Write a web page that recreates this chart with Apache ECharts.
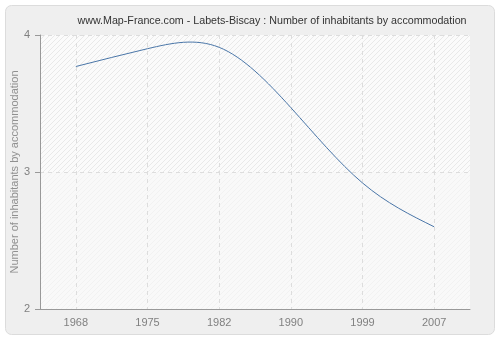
<!DOCTYPE html>
<html>
<head>
<meta charset="utf-8">
<style>
  html, body { margin: 0; padding: 0; background: #ffffff; }
  #chart { width: 500px; height: 340px; }
</style>
<script src="https://cdn.jsdelivr.net/npm/echarts@6/dist/echarts.min.js"></script>
</head>
<body>
<div id="chart"></div>
<script>
// Census years and average number of inhabitants per dwelling
const years = ['1968', '1975', '1982', '1990', '1999', '2007'];
const inhabitants = [3.77, 3.90, 3.91, 3.47, 2.92, 2.60];
const yTicks = [2, 3, 4];

// Second derivatives of a natural cubic spline through evenly spaced values
function splineSecondDerivs(y) {
  const n = y.length;
  const M = new Array(n).fill(0);
  if (n < 3) return M;
  const c = [], d = [];
  for (let i = 1; i < n - 1; i++) {
    const rhs = 6 * (y[i + 1] - 2 * y[i] + y[i - 1]);
    const prevC = i > 1 ? c[i - 1] : 0;
    const prevD = i > 1 ? d[i - 1] : 0;
    const den = 4 - prevC;
    c[i] = 1 / den;
    d[i] = (rhs - prevD) / den;
  }
  for (let i = n - 2; i >= 1; i--) {
    M[i] = d[i] - c[i] * M[i + 1];
  }
  return M;
}
const M = splineSecondDerivs(inhabitants);

// Diagonal hatch tile for the plot background
function hatch(bg, lineColor) {
  const s = 5;
  const c = document.createElement('canvas');
  c.width = s; c.height = s;
  const g = c.getContext('2d');
  g.fillStyle = bg;
  g.fillRect(0, 0, s, s);
  g.strokeStyle = lineColor;
  g.lineWidth = 1;
  g.beginPath();
  g.moveTo(-1, s + 1); g.lineTo(s + 1, -1);
  g.moveTo(-1, 1); g.lineTo(1, -1);
  g.moveTo(s - 1, s + 1); g.lineTo(s + 1, s - 1);
  g.stroke();
  return c;
}

const chart = echarts.init(document.getElementById('chart'), null, { renderer: 'canvas' });
const font = 'Liberation Sans';

chart.setOption({
  animation: false,
  backgroundColor: '#ffffff',
  graphic: [{
    type: 'rect',
    z: -10,
    shape: { x: 5.5, y: 5.5, width: 489, height: 329, r: 6 },
    style: { fill: '#efefef', stroke: '#dcdcdc', lineWidth: 1 }
  }],
  title: {
    text: 'www.Map-France.com - Labets-Biscay : Number of inhabitants by accommodation',
    left: 267,
    textAlign: 'center',
    top: 11,
    textStyle: { fontFamily: font, fontSize: 10.7, fontWeight: 'normal', color: '#333333' }
  },
  grid: {
    left: 40, right: 30, top: 35, bottom: 31,
    containLabel: false,
    outerBoundsMode: 'none',
    show: true,
    borderWidth: 0,
    backgroundColor: { image: hatch('#fbfbfb', '#e9e9e9'), repeat: 'repeat' }
  },
  xAxis: {
    type: 'category',
    data: years,
    boundaryGap: true,
    z: 2,
    axisLine: { lineStyle: { color: '#999999' } },
    axisTick: { alignWithLabel: true, length: 5, lineStyle: { color: '#999999' } },
    axisLabel: { fontFamily: font, fontSize: 11, color: '#808080', margin: 8 },
    splitLine: { show: true, alignWithLabel: true, lineStyle: { color: '#dddddd', type: [4, 4] } }
  },
  yAxis: {
    type: 'value',
    min: yTicks[0],
    max: yTicks[yTicks.length - 1],
    interval: 1,
    z: 2,
    name: 'Number of inhabitants by accommodation',
    nameLocation: 'middle',
    nameGap: 20,
    nameMoveOverlap: false,
    nameTextStyle: { fontFamily: font, fontSize: 11, color: '#909090' },
    axisLine: { show: true, lineStyle: { color: '#999999' } },
    axisTick: { show: true, length: 5, lineStyle: { color: '#999999' } },
    axisLabel: { fontFamily: font, fontSize: 11, color: '#808080', margin: 10 },
    splitLine: { show: true, lineStyle: { color: '#dddddd', type: [4, 4] } }
  },
  series: [{
    // lighter hatch for the lower half of the plot
    type: 'line',
    data: [],
    z: 1,
    markArea: {
      silent: true,
      z: 1,
      data: [
        [{ yAxis: 2, itemStyle: { color: { image: hatch('#f9f9f9', '#f2f2f2'), repeat: 'repeat' } } }, { yAxis: 3 }]
      ]
    }
  }, {
    // smooth curve: each item draws the spline segment to the next year
    type: 'custom',
    data: inhabitants.map((v, i) => [years[i], v]),
    encode: { x: 0, y: 1 },
    z: 3,
    renderItem: function (params, api) {
      const i = params.dataIndex;
      if (i >= inhabitants.length - 1) return null;
      const y0 = inhabitants[i], y1 = inhabitants[i + 1];
      const d0 = (y1 - y0) - (2 * M[i] + M[i + 1]) / 6;
      const d1 = (y1 - y0) + (M[i] + 2 * M[i + 1]) / 6;
      const p0 = api.coord([years[i], y0]);
      const p3 = api.coord([years[i + 1], y1]);
      const cy1 = api.coord([years[i], y0 + d0 / 3])[1];
      const cy2 = api.coord([years[i], y1 - d1 / 3])[1];
      const cx1 = p0[0] + (p3[0] - p0[0]) / 3;
      const cx2 = p0[0] + 2 * (p3[0] - p0[0]) / 3;
      return {
        type: 'bezierCurve',
        shape: { x1: p0[0], y1: p0[1], cpx1: cx1, cpy1: cy1, cpx2: cx2, cpy2: cy2, x2: p3[0], y2: p3[1] },
        style: { stroke: '#4a76a8', lineWidth: 1, fill: null }
      };
    }
  }]
});
</script>
</body>
</html>
